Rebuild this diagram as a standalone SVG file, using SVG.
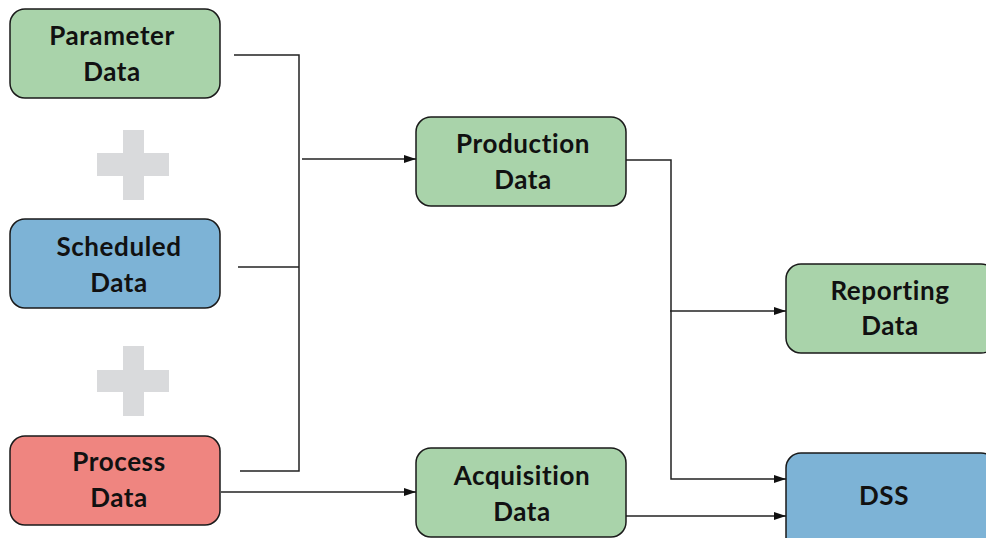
<svg xmlns="http://www.w3.org/2000/svg" width="986" height="538" viewBox="0 0 986 538">
<defs>
<marker id="arr" markerWidth="12" markerHeight="8" refX="12" refY="4" orient="auto" markerUnits="userSpaceOnUse">
<path d="M0,0 L12,4 L0,8 Z" fill="#111"/>
</marker>
<style>
.box{stroke:#1a1a1a;stroke-width:1.5}
.g{fill:#a9d3aa}.b{fill:#7db3d6}.r{fill:#ef8580}
text{font-family:"Lato","Noto Sans","Liberation Sans",sans-serif;font-weight:bold;font-size:26px;letter-spacing:0.6px;fill:#111;text-anchor:middle}
.c{fill:none;stroke:#222;stroke-width:1.5}
.plus{fill:#d9dadc}
</style>
</defs>
<rect width="986" height="538" fill="#fff"/>
<g id="plus1" class="plus"><rect x="97" y="153" width="72" height="23"/><rect x="123" y="130" width="21" height="70"/></g>
<g id="plus2" class="plus"><rect x="97" y="370" width="72" height="22"/><rect x="123" y="346" width="21" height="70"/></g>
<g id="connectors">
<polyline class="c" points="234,55 299,55 299,471 240,471"/>
<line class="c" x1="238" y1="267" x2="299" y2="267"/>
<line class="c" x1="302" y1="159" x2="416" y2="159" marker-end="url(#arr)"/>
<line class="c" x1="221" y1="492" x2="416" y2="492" marker-end="url(#arr)"/>
<polyline class="c" points="622,160 671,160 671,479 786,479" marker-end="url(#arr)"/>
<line class="c" x1="670" y1="311" x2="786" y2="311" marker-end="url(#arr)"/>
<line class="c" x1="626" y1="516" x2="786" y2="516" marker-end="url(#arr)"/>
</g>
<g id="parameter"><rect class="box g" x="10" y="9" width="210" height="89" rx="15"/><text x="112" y="45">Parameter</text><text x="112" y="81">Data</text></g>
<g id="scheduled"><rect class="box b" x="10" y="219" width="210" height="89" rx="15"/><text x="119" y="256">Scheduled</text><text x="119" y="292">Data</text></g>
<g id="process"><rect class="box r" x="10" y="436" width="210" height="89" rx="15"/><text x="119" y="471">Process</text><text x="119" y="507">Data</text></g>
<g id="production"><rect class="box g" x="416" y="117" width="210" height="89" rx="15"/><text x="523" y="153">Production</text><text x="523" y="189">Data</text></g>
<g id="acquisition"><rect class="box g" x="416" y="448" width="210" height="89" rx="15"/><text x="522" y="485">Acquisition</text><text x="522" y="521">Data</text></g>
<g id="reporting"><rect class="box g" x="786" y="264" width="210" height="89" rx="15"/><text x="890" y="300">Reporting</text><text x="890" y="335">Data</text></g>
<g id="dss"><rect class="box b" x="786" y="453" width="210" height="100" rx="15"/><text x="884" y="505">DSS</text></g>
</svg>
